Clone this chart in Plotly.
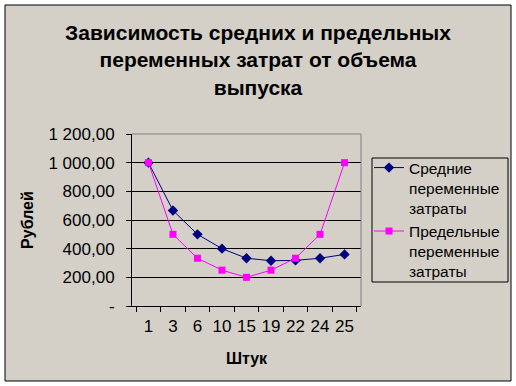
import plotly.graph_objects as go

categories = ["1", "3", "6", "10", "15", "19", "22", "24", "25"]
avg_costs = [1000, 666.67, 500, 400, 333.33, 315.79, 318.18, 333.33, 360]
marg_costs = [1000, 500, 333.33, 250, 200, 250, 333.33, 500, 1000]
y_tickvals = [0, 200, 400, 600, 800, 1000, 1200]
y_ticktext = ["-", "200,00", "400,00", "600,00", "800,00", "1 000,00", "1 200,00"]

W, H = 516, 386
L, R, T, B = 132, 361, 134, 306
FONT = "Liberation Sans, Arial, sans-serif"

def px2x(px):
    return (px - L) / (R - L)

def px2y(py):
    return (B - py) / (B - T)

fig = go.Figure()
fig.add_trace(go.Scatter(
    x=categories, y=avg_costs, mode="lines+markers",
    name="Средние<br>переменные<br>затраты",
    line=dict(color="#000080", width=1),
    marker=dict(symbol="diamond", size=8, color="#000080"),
))
fig.add_trace(go.Scatter(
    x=categories, y=marg_costs, mode="lines+markers",
    name="Предельные<br>переменные<br>затраты",
    line=dict(color="#FF00FF", width=1),
    marker=dict(symbol="square", size=7, color="#FF00FF"),
))

fig.update_layout(
    width=W, height=H,
    margin=dict(l=L, r=W - R, t=T, b=H - B, pad=0, autoexpand=False),
    paper_bgcolor="white",
    plot_bgcolor="#C0C0C0",
    font=dict(family=FONT, color="black", size=17),
    title=dict(
        text="<b>Зависимость средних и предельных<br>переменных затрат от объема<br>выпуска</b>",
        x=0.5, xanchor="center", xref="container",
        y=1 - 40 / H, yanchor="top", yref="container",
        font=dict(size=21, family=FONT, color="black"),
    ),
    showlegend=True,
    legend=dict(
        x=px2x(369), xanchor="left", y=px2y(151), yanchor="top",
        bgcolor="rgba(0,0,0,0)", borderwidth=0, valign="top",
        font=dict(size=15.5, family=FONT, color="black"),
        tracegroupgap=0, itemwidth=30,
    ),
    xaxis=dict(
        type="category", showgrid=False, showline=True, linecolor="black", linewidth=1,
        ticks="outside", tickson="boundaries", ticklen=5, tickcolor="black",
        tickfont=dict(size=17), tickangle=0, zeroline=False, automargin=False,
        ticklabelstandoff=5,
        title=dict(text="<b>Штук</b>", font=dict(size=16), standoff=17),
    ),
    yaxis=dict(
        range=[0, 1200], tickvals=y_tickvals, ticktext=y_ticktext,
        showgrid=True, gridcolor="black", gridwidth=1,
        showline=True, linecolor="black", linewidth=1,
        ticks="outside", ticklen=5, tickcolor="black",
        tickfont=dict(size=17), zeroline=False, ticklabelstandoff=8, automargin=False,
        title=dict(text="<b>Рублей</b>", font=dict(size=16), standoff=10),
    ),
    shapes=[
        dict(type="rect", xref="paper", yref="paper", layer="below",
             x0=px2x(5), x1=px2x(511), y0=px2y(381), y1=px2y(5),
             fillcolor="#D4D0C8", line=dict(color="black", width=1)),
        dict(type="rect", xref="paper", yref="paper", layer="below",
             x0=px2x(372), x1=px2x(508), y0=px2y(282), y1=px2y(158),
             fillcolor="#D4D0C8", line=dict(color="black", width=1)),
        dict(type="line", xref="paper", yref="paper", layer="above",
             x0=0, x1=1, y0=1, y1=1, line=dict(color="#808080", width=1)),
        dict(type="line", xref="paper", yref="paper", layer="above",
             x0=1, x1=1, y0=0, y1=1, line=dict(color="#808080", width=1)),
    ],
)

fig.write_html("out.html", post_script="document.body.style.margin='0px';",
               config={"displayModeBar": False})
